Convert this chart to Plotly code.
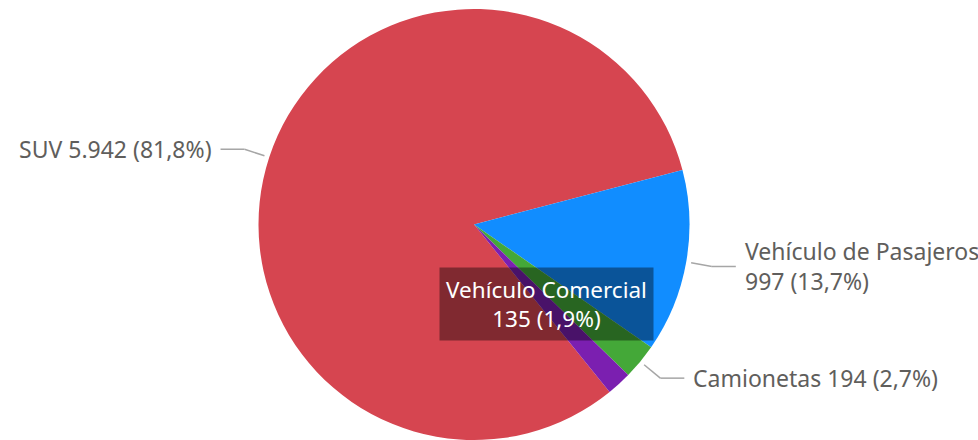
import numpy as np
import plotly.graph_objects as go

categories = ["SUV", "Vehículo de Pasajeros", "Camionetas", "Vehículo Comercial"]
values = [5942, 997, 194, 135]
value_labels = ["5.942", "997", "194", "135"]
pct_labels = ["81,8%", "13,7%", "2,7%", "1,9%"]
colors = ["#D64550", "#118DFF", "#44A838", "#7B1FB0"]

W, H = 978, 440
MT, MB = 9, 0
PH = H - MT - MB
ROT = 141.0
cx, cy = 474.0, MT + PH / 2.0
R = PH / 2.0

fig = go.Figure(go.Pie(
    labels=categories, values=values, sort=False, direction="clockwise",
    rotation=ROT, textinfo="none", hoverinfo="label+value+percent",
    marker=dict(colors=colors, line=dict(width=0)),
    domain=dict(x=[(cx - 300) / W, (cx + 300) / W], y=[0, 1]),
    showlegend=False,
))

def px2paper(x, y):
    return x / W, (H - MB - y) / PH

total = float(sum(values))
fr = np.array(values) / total
starts = ROT + np.concatenate([[0], np.cumsum(fr)[:-1]]) * 360.0
mids = np.radians(starts + fr * 180.0)

def pt(a, r):
    return cx + r * np.sin(a), cy - r * np.cos(a)

shapes, annotations = [], []
LINE = "#A6A6A6"
TXT = "#605E5C"
FONT = "Noto Sans"
FS = 23
for i, cat in enumerate(categories):
    a = mids[i]
    if cat == "Vehículo Comercial":
        x, y = pt(a, R * 0.5)
        xp, yp = px2paper(x, y)
        annotations.append(dict(x=xp, y=yp, xref="paper", yref="paper", showarrow=False,
                                text=f"{cat}<br>{value_labels[i]} ({pct_labels[i]})",
                                font=dict(family=FONT, size=22.5, color="white"),
                                bgcolor="rgba(0,0,0,0.4)", borderpad=6,
                                xanchor="center", yanchor="middle", align="center"))
        continue
    x0, y0 = pt(a, R + 5)
    x1, y1 = pt(a, R + 26)
    side = 1 if np.sin(a) >= 0 else -1
    x2 = x1 + side * 24
    for (xa, ya, xb, yb) in [(x0, y0, x1, y1), (x1, y1, x2, y1)]:
        pa, pb = px2paper(xa, ya), px2paper(xb, yb)
        shapes.append(dict(type="line", xref="paper", yref="paper", x0=pa[0], y0=pa[1],
                           x1=pb[0], y1=pb[1], line=dict(color=LINE, width=1.5)))
    if cat == "Vehículo de Pasajeros":
        txt = f"{cat}<br>{value_labels[i]} ({pct_labels[i]})"
    else:
        txt = f"{cat} {value_labels[i]} ({pct_labels[i]})"
    tx, ty = px2paper(x2 + side * 7, y1)
    annotations.append(dict(x=tx, y=ty, xref="paper", yref="paper", showarrow=False, text=txt,
                            font=dict(family=FONT, size=FS, color=TXT),
                            xanchor="left" if side > 0 else "right", yanchor="middle", align="left"))

fig.update_layout(width=W, height=H, margin=dict(l=0, r=0, t=MT, b=MB),
                  paper_bgcolor="white", plot_bgcolor="white",
                  shapes=shapes, annotations=annotations)
fig.write_html("out.html", config={"displayModeBar": False},
               post_script="document.body.style.margin='0';")
